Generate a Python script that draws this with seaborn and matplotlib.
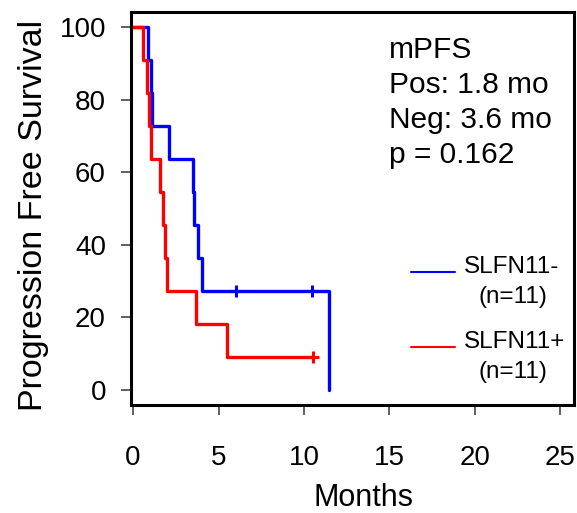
import numpy as np
import pandas as pd
import matplotlib
matplotlib.use("Agg")
import matplotlib.pyplot as plt
import seaborn as sns

# Data (months, event=1 progression, 0 censored)
neg_times = [0.88, 1.05, 1.10, 2.10, 3.50, 3.57, 3.78, 4.03, 6.00, 10.45, 11.45]
neg_events = [1, 1, 1, 1, 1, 1, 1, 1, 0, 0, 1]
pos_times = [0.60, 0.80, 0.93, 1.05, 1.58, 1.77, 1.87, 1.97, 3.68, 5.47, 10.50]
pos_events = [1, 1, 1, 1, 1, 1, 1, 1, 1, 1, 0]
group_labels = ["SLFN11-\n(n=11)", "SLFN11+\n(n=11)"]
group_colors = ["#0000FF", "#FF0000"]
x_ticks = [0, 5, 10, 15, 20, 25]
y_ticks = [0, 20, 40, 60, 80, 100]
annot_lines = ["mPFS", "Pos: 1.8 mo", "Neg: 3.6 mo", "p = 0.162"]


def km_steps(times, events):
    t = np.asarray(times, float)
    e = np.asarray(events, int)
    order = np.argsort(t, kind="stable")
    t, e = t[order], e[order]
    n = len(t)
    xs, ys = [0.0], [100.0]
    s = 1.0
    cens_x, cens_y = [], []
    at_risk = n
    for ti, ei in zip(t, e):
        if ei == 1:
            s *= (at_risk - 1) / at_risk
        else:
            cens_x.append(ti)
            cens_y.append(s * 100)
        at_risk -= 1
        xs.append(ti)
        ys.append(s * 100)
    return pd.DataFrame({"x": xs, "y": ys}), cens_x, cens_y


sns.set_style("ticks")
plt.rcParams["font.family"] = ["Liberation Sans", "DejaVu Sans"]
plt.rcParams["text.color"] = "black"
plt.rcParams["axes.labelcolor"] = "black"
plt.rcParams["xtick.color"] = "black"
plt.rcParams["ytick.color"] = "black"

fig = plt.figure(figsize=(5.77, 5.13), dpi=100)
ax = fig.add_axes([131 / 577, (513 - 405) / 513, (574 - 131) / 577, (405 - 12) / 513])

series = [(neg_times, neg_events), (pos_times, pos_events)]
for (tt, ee), lab, col in zip(series, group_labels, group_colors):
    df, cx, cy = km_steps(tt, ee)
    sns.lineplot(data=df, x="x", y="y", ax=ax, color=col, lw=2.4,
                 drawstyle="steps-post", estimator=None, sort=False, label=None)
    ax.plot(cx, cy, ls="none", marker="+", ms=9, mew=2.2, color=col)

ax.set_xlim(-0.12, 25.8)
ax.set_ylim(-4.1, 104.1)
ax.set_xticks(x_ticks)
ax.set_yticks(y_ticks)
ax.tick_params(axis="x", labelsize=20, length=7, width=1.2, pad=22, color="#444444")
ax.tick_params(axis="y", labelsize=20, length=7, width=1.2, pad=11, color="#444444")
for sp in ax.spines.values():
    sp.set_visible(True)
    sp.set_linewidth(2.2)
    sp.set_color("black")
ax.set_xlabel("Months", fontsize=22)
ax.set_ylabel("Progression Free Survival", fontsize=24.5)
ax.xaxis.set_label_coords((363 - 131) / 443, (405 - 483) / 393)
ax.yaxis.set_label_coords((49 - 131) / 443, (405 - 215) / 393)
if ax.get_legend() is not None:
    ax.get_legend().remove()

# annotation block
for i, line in enumerate(annot_lines):
    fig.text(389 / 577, 1 - (58 + i * 35) / 513, line, fontsize=21.5,
             ha="left", va="baseline")

# manual legend
leg_y = [272, 347]
for yy, lab, col in zip(leg_y, group_labels, group_colors):
    fig.add_artist(plt.Line2D([411 / 577, 455 / 577], [1 - yy / 513, 1 - yy / 513],
                              color=col, lw=1.5))
    first, second = lab.split("\n")
    fig.text(464 / 577, 1 - (yy + 1) / 513, first, fontsize=17.5, ha="left", va="baseline")
    fig.text(479 / 577, 1 - (yy + 31) / 513, second, fontsize=17.5, ha="left", va="baseline")

fig.savefig("out.png", dpi=100)
